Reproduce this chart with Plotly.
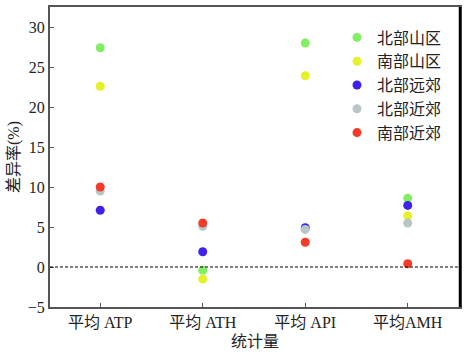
import plotly.graph_objects as go

categories = ["平均 ATP", "平均 ATH", "平均 API", "平均AMH"]
series_names = ["北部山区", "南部山区", "北部远郊", "北部近郊", "南部近郊"]
north_mountain = [27.4, -0.4, 28.0, 8.6]
south_mountain = [22.6, -1.5, 23.9, 6.4]
north_far = [7.1, 1.9, 4.9, 7.7]
north_near = [9.5, 5.1, 4.7, 5.5]
south_near = [10.0, 5.5, 3.1, 0.4]
colors = ["#82EE62", "#E5F229", "#3E22EC", "#B9C6C8", "#F43B27"]
y_ticks = [-5, 0, 5, 10, 15, 20, 25, 30]

FONT = "Liberation Serif, Times New Roman, Noto Sans CJK SC"

fig = go.Figure()
for name, vals, c in zip(series_names,
                         [north_mountain, south_mountain, north_far, north_near, south_near],
                         colors):
    fig.add_trace(go.Scatter(x=list(range(len(categories))), y=vals, mode="markers",
                             name=name, marker=dict(color=c, size=9, line=dict(width=0))))

fig.add_hline(y=0, line=dict(color="black", width=1, dash="3px,2px"))
fig.add_shape(type="line", xref="paper", yref="paper", x0=1, x1=1, y0=0, y1=1,
              line=dict(color="black", width=2.5))

fig.update_layout(
    width=468, height=357,
    margin=dict(l=50, r=8, t=5, b=50),
    paper_bgcolor="white", plot_bgcolor="white",
    font=dict(family=FONT, size=16, color="#222"),
    showlegend=True,
    legend=dict(x=0.70, y=0.955, xanchor="left", yanchor="top",
                bgcolor="rgba(0,0,0,0)", font=dict(size=16, color="#222"),
                itemwidth=30, tracegroupgap=0),
    xaxis=dict(range=[-0.49, 3.51], tickmode="array", tickvals=list(range(len(categories))),
               ticktext=categories, ticks="inside", ticklen=4, tickcolor="#555",
               showline=True, linecolor="#555", linewidth=2, mirror=True,
               showgrid=False, zeroline=False,
               title=dict(text="统计量", font=dict(size=16), standoff=6)),
    yaxis=dict(range=[-5, 32.5], tickmode="array", tickvals=y_ticks,
               ticktext=[("−5" if v < 0 else str(v)) for v in y_ticks],
               ticks="inside", ticklen=4, tickcolor="#555",
               showline=True, linecolor="#555", linewidth=2, mirror=True,
               showgrid=False, zeroline=False,
               title=dict(text="差异率(%)", font=dict(size=16), standoff=4)),
)

fig.write_html("out.html", config={"displayModeBar": False},
               post_script="document.body.style.margin='0';")
